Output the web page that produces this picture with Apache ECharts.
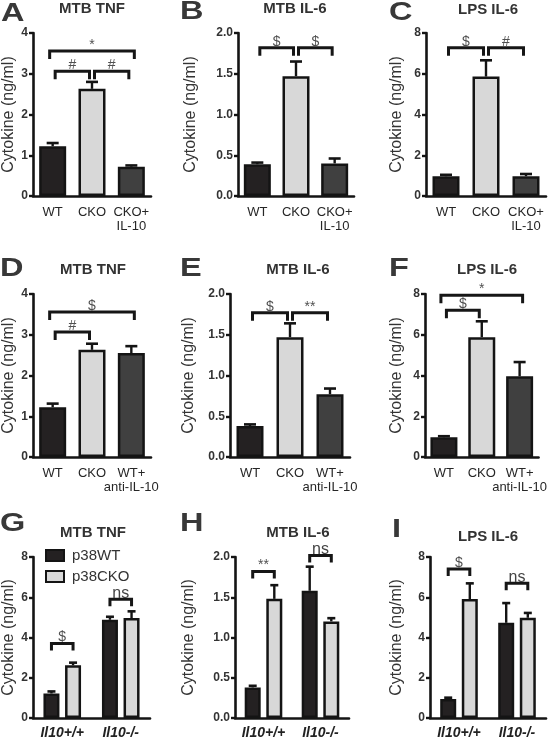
<!DOCTYPE html>
<html><head><meta charset="utf-8">
<script src="https://cdn.jsdelivr.net/npm/echarts@6/dist/echarts.min.js"></script>
<style>html,body{margin:0;padding:0;background:#fff}#c{width:550px;height:740px}</style>
</head><body><div id="c"></div>
<script>
// ---------- data ----------
const catsTop = ['WT', 'CKO', 'CKO+\nIL-10'];
const catsMid = ['WT', 'CKO', 'WT+\nanti-IL-10'];
const catsBot = ['Il10+/+', 'Il10-/-'];
const groupNames = ['p38WT', 'p38CKO'];
const titles = ['MTB TNF', 'MTB IL-6', 'LPS IL-6', 'MTB TNF', 'MTB IL-6', 'LPS IL-6', 'MTB TNF', 'MTB IL-6', 'LPS IL-6'];
const letters = ['A', 'B', 'C', 'D', 'E', 'F', 'G', 'H', 'I'];
const yMax = [4, 2, 8, 4, 2, 8, 8, 2, 8];
const yStep = [1, 0.5, 2, 1, 0.5, 2, 2, 0.5, 2];
const yName = 'Cytokine (ng/ml)';

const valA = [1.22, 2.63, 0.72], errA = [0.08, 0.17, 0.03];
const valB = [0.39, 1.47, 0.40], errB = [0.02, 0.18, 0.06];
const valC = [0.97, 5.86, 0.97], errC = [0.07, 0.80, 0.11];
const valD = [1.22, 2.63, 2.55], errD = [0.09, 0.15, 0.17];
const valE = [0.38, 1.47, 0.77], errE = [0.02, 0.17, 0.07];
const valF = [0.97, 5.88, 3.96], errF = [0.05, 0.78, 0.70];
const valG_WT = [1.22, 4.88], errG_WT = [0.10, 0.15];
const valG_CKO = [2.62, 4.97], errG_CKO = [0.13, 0.33];
const valH_WT = [0.38, 1.58], errH_WT = [0.02, 0.30];
const valH_CKO = [1.48, 1.20], errH_CKO = [0.17, 0.04];
const valI_WT = [0.95, 4.73], errI_WT = [0.06, 0.98];
const valI_CKO = [5.91, 4.98], errI_CKO = [0.78, 0.24];

// brackets: [fromCat, toCat, y, label]  (single panels)
const brA = [[0, 2, 3.56, '*'], [0, 1, 3.06, '#'], [1, 2, 3.06, '#']];
const brB = [[0, 1, 1.82, '$'], [1, 2, 1.82, '$']];
const brC = [[0, 1, 7.28, '$'], [1, 2, 7.28, '#']];
const brD = [[0, 2, 3.56, '$'], [0, 1, 3.07, '#']];
const brE = [[0, 1, 1.77, '$'], [1, 2, 1.77, '**']];
const brF = [[0, 2, 7.94, '*'], [0, 1, 7.20, '$']];
// grouped panels: [groupCat, y, label]
const brG = [[0, 3.70, '$'], [1, 5.90, 'ns']];
const brH = [[0, 1.82, '**'], [1, 2.02, 'ns']];
const brI = [[0, 7.40, '$'], [1, 6.70, 'ns']];

// ---------- layout / style ----------
const FONT = "'Liberation Sans', Arial, Helvetica, sans-serif";
const fills = ['#242122', '#d8d8d8', '#404040'];
const ink = '#141414';
const panels = [
  { cats: catsTop, vals: valA, errs: errA, br: brA },
  { cats: catsTop, vals: valB, errs: errB, br: brB },
  { cats: catsTop, vals: valC, errs: errC, br: brC },
  { cats: catsMid, vals: valD, errs: errD, br: brD },
  { cats: catsMid, vals: valE, errs: errE, br: brE },
  { cats: catsMid, vals: valF, errs: errF, br: brF },
  { cats: catsBot, grouped: true, vals: [valG_WT, valG_CKO], errs: [errG_WT, errG_CKO], br: brG },
  { cats: catsBot, grouped: true, vals: [valH_WT, valH_CKO], errs: [errH_WT, errH_CKO], br: brH },
  { cats: catsBot, grouped: true, vals: [valI_WT, valI_CKO], errs: [errI_WT, errI_CKO], br: brI }
];
const layout = [
  { left: 33, top: 33, width: 118, gap: 16, tx: 92, ty: 9, lx: 1, ly: 14 },
  { left: 238, top: 33, width: 116, gap: 39, tx: 295, ty: 9, lx: 180, ly: 12 },
  { left: 426, top: 33, width: 120, gap: 21, tx: 488, ty: 10, lx: 389, ly: 13 },
  { left: 33, top: 294, width: 118, gap: 16, tx: 93, ty: 270, lx: 0, ly: 269 },
  { left: 230, top: 294, width: 120, gap: 33, tx: 298, ty: 270, lx: 180, ly: 269 },
  { left: 425, top: 294, width: 114, gap: 20, tx: 487, ty: 270, lx: 389, ly: 269 },
  { left: 33, top: 557, width: 117, gap: 16, tx: 93, ty: 533, lx: 0, ly: 524 },
  { left: 235, top: 557, width: 114, gap: 38, tx: 298, ty: 533, lx: 180, ly: 524 },
  { left: 430, top: 557, width: 116, gap: 25, tx: 488, ty: 537, lx: 392, ly: 530 }
];
const PH = 163;
const BW = 27, GBW = 16, GGAP = 0.35;
const GOFF = (GBW + GBW * GGAP) / 2;

const grid = [], xAxis = [], yAxis = [], series = [], graphic = [];

function errSeries(i, vals, errs, dx, cap) {
  return {
    type: 'custom', xAxisIndex: i, yAxisIndex: i, silent: true, z: 5,
    data: vals.map((v, k) => [k, v, errs[k]]),
    renderItem: function (params, api) {
      const x = api.value(0), v = api.value(1), e = api.value(2);
      const p0 = api.coord([x, v]), p1 = api.coord([x, v + e]);
      const cx = p0[0] + dx;
      return { type: 'group', children: [
        { type: 'line', shape: { x1: cx, y1: p0[1], x2: cx, y2: p1[1] }, style: { stroke: ink, lineWidth: 2.4 } },
        { type: 'line', shape: { x1: cx - cap / 2, y1: p1[1], x2: cx + cap / 2, y2: p1[1] }, style: { stroke: ink, lineWidth: 2.6 } }
      ] };
    }
  };
}

function bracketItem(xa, xb, y, label, leg, big) {
  return { type: 'group', children: [
    { type: 'polyline', shape: { points: [[xa, y + leg], [xa, y], [xb, y], [xb, y + leg]] },
      style: { stroke: '#161616', lineWidth: 3, fill: null } },
    { type: 'text', x: (xa + xb) / 2, y: y + (big ? 2 : 1),
      style: { text: label, fill: big ? '#444' : '#505050', fontFamily: FONT, fontSize: big ? 16 : 14, align: 'center', verticalAlign: 'bottom' } }
  ] };
}

panels.forEach((p, i) => {
  const L = layout[i];
  grid.push({ left: L.left, top: L.top, width: L.width, height: PH, containLabel: false });
  xAxis.push({
    type: 'category', gridIndex: i, data: p.cats,
    axisLine: { lineStyle: { color: ink, width: 2.6 } },
    axisTick: { alignWithLabel: true, length: 4, lineStyle: { color: ink, width: 2.4 } },
    axisLabel: p.grouped
      ? { margin: 8, color: '#222', fontFamily: FONT, fontSize: 14, fontWeight: 'bold', fontStyle: 'italic' }
      : { margin: 9, color: '#262626', fontFamily: FONT, fontSize: 13, lineHeight: 14, interval: 0 }
  });
  yAxis.push({
    type: 'value', gridIndex: i, min: 0, max: yMax[i], interval: yStep[i],
    name: yName, nameLocation: 'middle', nameRotate: 90, nameGap: L.gap,
    nameTextStyle: { color: '#333', fontFamily: FONT, fontSize: 16 },
    axisLine: { show: true, lineStyle: { color: ink, width: 2.6 } },
    axisTick: { show: true, length: 4, lineStyle: { color: ink, width: 2.4 } },
    splitLine: { show: false },
    axisLabel: { margin: 5, color: '#333', fontFamily: FONT, fontSize: 12, fontWeight: 'bold',
      formatter: v => (yStep[i] < 1 ? v.toFixed(1) : String(v)) }
  });
  if (!p.grouped) {
    series.push({
      type: 'bar', xAxisIndex: i, yAxisIndex: i, barWidth: BW, silent: true,
      data: p.vals.map((v, k) => ({ value: v, itemStyle: { color: fills[k] } })),
      itemStyle: { borderColor: ink, borderWidth: 2.5 }
    });
    series.push(errSeries(i, p.vals, p.errs, 0, 12));
    const br = p.br;
    series.push({
      type: 'custom', xAxisIndex: i, yAxisIndex: i, silent: true, z: 6,
      encode: { x: [0, 1], y: 2 },
      data: br.map(b => [b[0], b[1], b[2]]),
      renderItem: function (params, api) {
        const f = api.value(0), t = api.value(1), y = api.value(2);
        const a = api.coord([f, y]), b = api.coord([t, y]);
        const ins = (t - f > 1) ? -3 : 2.5;
        return bracketItem(a[0] + ins, b[0] - ins, a[1], br[params.dataIndex][3], 8, false);
      }
    });
  } else {
    groupNames.forEach((g, s) => {
      series.push({
        type: 'bar', name: g, xAxisIndex: i, yAxisIndex: i, barWidth: GBW, barGap: '35%', silent: true,
        data: p.vals[s],
        itemStyle: { color: fills[s], borderColor: ink, borderWidth: 2.5 }
      });
    });
    groupNames.forEach((g, s) => {
      series.push(errSeries(i, p.vals[s], p.errs[s], s === 0 ? -GOFF : GOFF, 8));
    });
    const br = p.br;
    series.push({
      type: 'custom', xAxisIndex: i, yAxisIndex: i, silent: true, z: 6,
      data: br.map(b => [b[0], b[1]]),
      renderItem: function (params, api) {
        const c = api.coord([api.value(0), api.value(1)]);
        const lab = br[params.dataIndex][2];
        return bracketItem(c[0] - GOFF, c[0] + GOFF, c[1], lab, 7, lab === 'ns');
      }
    });
  }
  graphic.push({ type: 'text', x: L.tx, y: L.ty, silent: true,
    style: { text: titles[i], fill: '#333', fontFamily: FONT, fontSize: 15, fontWeight: 'bold', align: 'center', verticalAlign: 'middle' } });
  graphic.push({ type: 'text', x: L.lx, y: L.ly, silent: true, scaleX: 1.3,
    style: { text: letters[i], fill: '#383838', fontFamily: FONT, fontSize: 25, fontWeight: 'bold', align: 'left', verticalAlign: 'middle' } });
});

const chart = echarts.init(document.getElementById('c'), null, { renderer: 'canvas' });
chart.setOption({
  animation: false,
  backgroundColor: '#fff',
  grid, xAxis, yAxis, series, graphic,
  legend: {
    data: groupNames, left: 40, top: 543, orient: 'vertical', icon: 'rect',
    itemWidth: 18, itemHeight: 11, itemGap: 6, selectedMode: false,
    textStyle: { color: '#333', fontFamily: FONT, fontSize: 15, padding: [0, 0, 0, 3] }
  }
});
</script></body></html>
